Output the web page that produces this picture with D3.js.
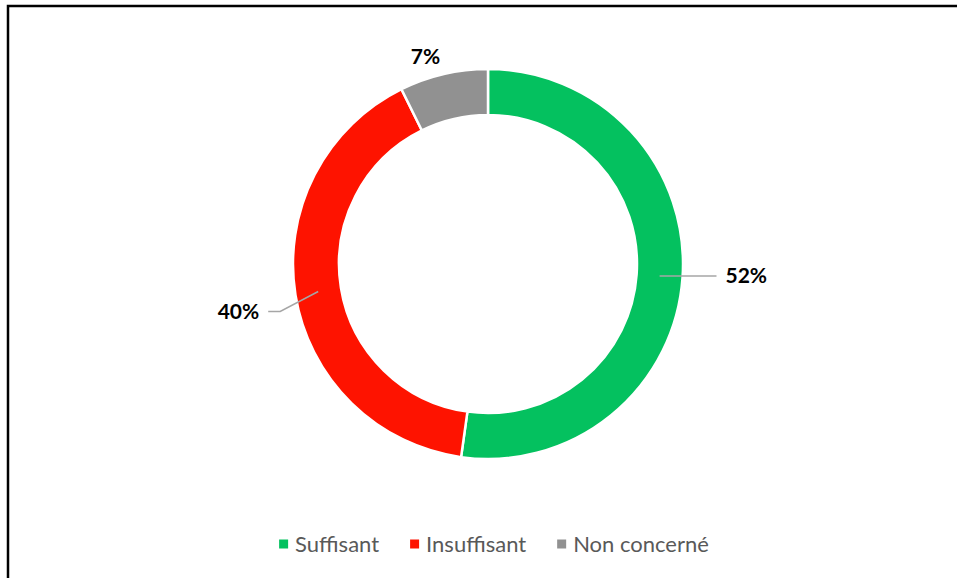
<!DOCTYPE html>
<html lang="fr">
  <head>
    <meta charset="UTF-8" />
    <title>Anneau - Suffisant / Insuffisant</title>
    <script src="https://d3js.org/d3.v7.min.js"></script>
    <style>
      body {
        margin: 0;
        background: #fff;
      }
      svg {
        display: block;
        font-family: Lato, "Open Sans", sans-serif;
      }
      .pct {
        font-weight: bold;
        font-size: 21px;
        fill: #000;
      }
      .leg {
        font-size: 22px;
        fill: #595959;
      }
    </style>
  </head>
  <body>
    <svg id="chart" width="957" height="578"></svg>

    <script>
      // données
      const categories = ["Suffisant", "Insuffisant", "Non concerné"];
      const values = [52.1, 40.4, 7.3];
      const labels = ["52%", "40%", "7%"];
      const colors = ["#04c15f", "#fe1300", "#919191"];

      const svg = d3.select("#chart");
      const width = +svg.attr("width");
      const height = +svg.attr("height");

      // cadre (seuls les bords haut et gauche sont visibles)
      svg
        .append("rect")
        .attr("x", 8)
        .attr("y", 6)
        .attr("width", width + 20)
        .attr("height", height + 20)
        .attr("fill", "none")
        .attr("stroke", "#000")
        .attr("stroke-width", 2.5);

      const cx = 488,
        cy = 264;
      const outerR = 195,
        innerR = 149;

      const data = categories.map((c, i) => ({
        name: c,
        value: values[i],
        label: labels[i],
        color: colors[i],
      }));

      const pie = d3
        .pie()
        .sort(null)
        .value((d) => d.value);
      const arcs = pie(data);

      const arc = d3.arc().innerRadius(innerR).outerRadius(outerR);

      const g = svg.append("g").attr("transform", `translate(${cx},${cy})`);

      g.selectAll("path")
        .data(arcs)
        .join("path")
        .attr("d", arc)
        .attr("fill", (d) => d.data.color)
        .attr("stroke", "#fff")
        .attr("stroke-width", 2.5);

      // étiquettes avec lignes de rappel
      const midR = (innerR + outerR) / 2;
      const pt = (a, r) => [r * Math.sin(a), -r * Math.cos(a)];

      arcs.forEach((d) => {
        const a = (d.startAngle + d.endAngle) / 2;
        const right = Math.sin(a) > 0;
        if (d.data.name === "Non concerné") {
          // petite part : étiquette au-dessus, sans ligne
          const p = pt(a, 213);
          g.append("text")
            .attr("class", "pct")
            .attr("x", p[0] - 14)
            .attr("y", p[1])
            .attr("dy", "0.35em")
            .attr("text-anchor", "middle")
            .text(d.data.label);
          return;
        }
        const p0 = pt(a, midR);
        let p1, p2;
        if (right) {
          p1 = pt(a, 215);
          p1[1] = p0[1];
          p2 = [p1[0] + 14, p1[1]];
        } else {
          // Excel décale l'étiquette vers le bas
          p1 = [p0[0] - 38, p0[1] + 20];
          p2 = [p1[0] - 12, p1[1]];
        }
        g.append("polyline")
          .attr("points", [p0, p1, p2].map((p) => p.join(",")).join(" "))
          .attr("fill", "none")
          .attr("stroke", "#a6a6a6")
          .attr("stroke-width", 1.5);
        g.append("text")
          .attr("class", "pct")
          .attr("x", p2[0] + (right ? 9 : -9))
          .attr("y", p2[1])
          .attr("dy", "0.35em")
          .attr("text-anchor", right ? "start" : "end")
          .text(d.data.label);
      });

      // légende centrée en bas
      const legend = svg.append("g");
      const legY = 544;
      let x = 0;
      const items = legend
        .selectAll("g")
        .data(data)
        .join("g");
      items.each(function (d) {
        const it = d3.select(this);
        it.append("rect")
          .attr("width", 9)
          .attr("height", 9)
          .attr("y", -4.5)
          .attr("fill", d.color);
        const t = it
          .append("text")
          .attr("class", "leg")
          .attr("x", 16)
          .attr("dy", "0.35em")
          .text(d.name);
        it.attr("transform", `translate(${x},0)`);
        x += 16 + t.node().getComputedTextLength() + 31;
      });
      const totalW = x - 31;
      legend.attr("transform", `translate(${494 - totalW / 2},${legY})`);
    </script>
  </body>
</html>
